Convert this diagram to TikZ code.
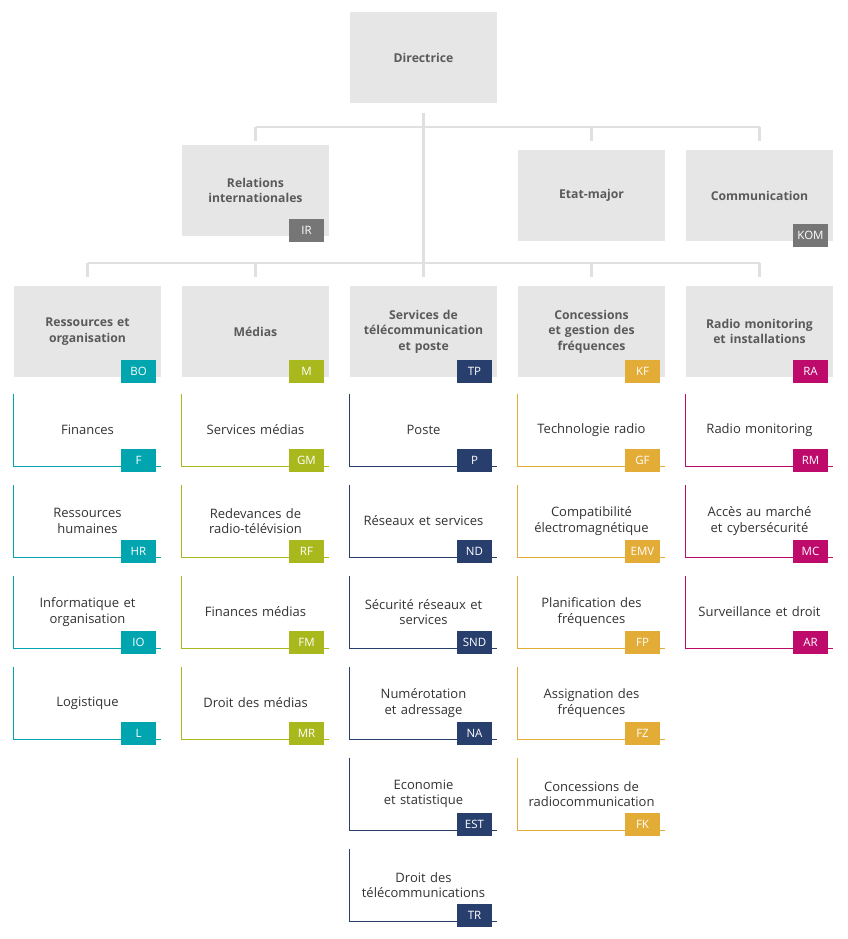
\documentclass[tikz,border=0pt]{standalone}
\usepackage{fontspec}
\setmainfont{Open Sans}
\usetikzlibrary{calc}
\definecolor{cBO}{HTML}{00A5AF}
\definecolor{cM}{HTML}{A9B81C}
\definecolor{cTP}{HTML}{283F6E}
\definecolor{cKF}{HTML}{E2AC36}
\definecolor{cRA}{HTML}{BE0A6B}
\definecolor{cGR}{HTML}{767676}
\definecolor{boxfill}{HTML}{E6E6E6}
\definecolor{lineg}{HTML}{E0E0E0}
\definecolor{headtxt}{HTML}{5A5A5A}
\definecolor{unittxt}{HTML}{333333}
\tikzset{
  head/.style={fill=boxfill, minimum width=147pt, minimum height=91pt, inner sep=0pt,
    text width=140pt, align=center, text=headtxt, font=\fontsize{12.2}{15.5}\selectfont\bfseries},
  unit/.style={minimum width=147pt, minimum height=72pt, inner sep=0pt,
    text width=140pt, align=center, text=unittxt, font=\fontsize{13}{15.5}\selectfont},
  badge/.style={minimum width=35pt, minimum height=23pt, inner sep=0pt, text=white,
    font=\fontsize{11.5}{12}\selectfont},
  conn/.style={draw=lineg, line width=2.2pt},
  uline/.style={line width=1.1pt},
}
\newcommand{\unitbox}[6]{%
  \node[unit] (#1) at ({#2+73.5},{-(430+91*#3)}) {#4};
  \draw[uline, draw=#6] (#1.north west) |- (#1.south east);
  \node[badge, fill=#6, anchor=south east] (#1b) at ([shift={(-5pt,-6pt)}]#1.south east) {#5};
}
\newcommand{\headbadge}[4]{%
  \node[badge, fill=#3, anchor=south east] (#1) at ([shift={(-5pt,-6pt)}]#2.south east) {#4};
}
\begin{document}
\begin{tikzpicture}[x=1pt,y=1pt]
\useasboundingbox (0,0) rectangle (847,-939);
\fill[white] (0,0) rectangle (847,-939);
% level 0 / 1
\node[head] (dir) at (423.5,-57.5) {Directrice};
\node[head] (ir) at (255.5,-190.5) {Relations\\internationales};
\node[head] (em) at (591.5,-195.5) {Etat-major};
\node[head] (com) at (759.5,-195.5) {Communication};
\headbadge{irb}{ir}{cGR}{IR}
\headbadge{comb}{com}{cGR}{KOM}
% level 2
\node[head] (bo) at (87.5,-331.5) {Ressources et\\organisation};
\node[head] (m) at (255.5,-331.5) {Médias};
\node[head] (tp) at (423.5,-331.5) {Services de\\télécommunication\\et poste};
\node[head] (kf) at (591.5,-331.5) {Concessions\\et gestion des\\fréquences};
\node[head] (ra) at (759.5,-331.5) {Radio monitoring\\et installations};
\headbadge{bob}{bo}{cBO}{BO}
\headbadge{mb}{m}{cM}{M}
\headbadge{tpb}{tp}{cTP}{TP}
\headbadge{kfb}{kf}{cKF}{KF}
\headbadge{rab}{ra}{cRA}{RA}
% connectors
\coordinate (dtop) at (423.5,-113);
\coordinate (j1) at (423.5,-127);
\coordinate (j2) at (423.5,-263);
\draw[conn] (dtop) -- (j2);
\draw[conn] (ir.north |- j1) -- (com.north |- j1);
\draw[conn] (ir.north |- j1) -- ++(0,-14);
\draw[conn] (em.north |- j1) -- ++(0,-14);
\draw[conn] (com.north |- j1) -- ++(0,-14);
\draw[conn] (bo.north |- j2) -- (ra.north |- j2);
\foreach \n in {bo,m,tp,kf,ra}{
  \draw[conn] (\n.north |- j2) -- ++(0,-14);
}
% level 3
\unitbox{f}{14}{0}{Finances}{F}{cBO}
\unitbox{hr}{14}{1}{Ressources\\humaines}{HR}{cBO}
\unitbox{io}{14}{2}{Informatique et\\organisation}{IO}{cBO}
\unitbox{l}{14}{3}{Logistique}{L}{cBO}
\unitbox{gm}{182}{0}{Services médias}{GM}{cM}
\unitbox{rf}{182}{1}{Redevances de\\radio-télévision}{RF}{cM}
\unitbox{fm}{182}{2}{Finances médias}{FM}{cM}
\unitbox{mr}{182}{3}{Droit des médias}{MR}{cM}
\unitbox{p}{350}{0}{Poste}{P}{cTP}
\unitbox{nd}{350}{1}{Réseaux et services}{ND}{cTP}
\unitbox{snd}{350}{2}{Sécurité réseaux et\\services}{SND}{cTP}
\unitbox{na}{350}{3}{Numérotation\\et adressage}{NA}{cTP}
\unitbox{est}{350}{4}{Economie\\et statistique}{EST}{cTP}
\unitbox{tr}{350}{5}{Droit des\\télécommunications}{TR}{cTP}
\unitbox{gf}{518}{0}{Technologie radio}{GF}{cKF}
\unitbox{emv}{518}{1}{Compatibilité\\électromagnétique}{EMV}{cKF}
\unitbox{fp}{518}{2}{Planification des\\fréquences}{FP}{cKF}
\unitbox{fz}{518}{3}{Assignation des\\fréquences}{FZ}{cKF}
\unitbox{fk}{518}{4}{Concessions de\\radiocommunication}{FK}{cKF}
\unitbox{rm}{686}{0}{Radio monitoring}{RM}{cRA}
\unitbox{mc}{686}{1}{Accès au marché\\et cybersécurité}{MC}{cRA}
\unitbox{ar}{686}{2}{Surveillance et droit}{AR}{cRA}
\end{tikzpicture}
\end{document}
